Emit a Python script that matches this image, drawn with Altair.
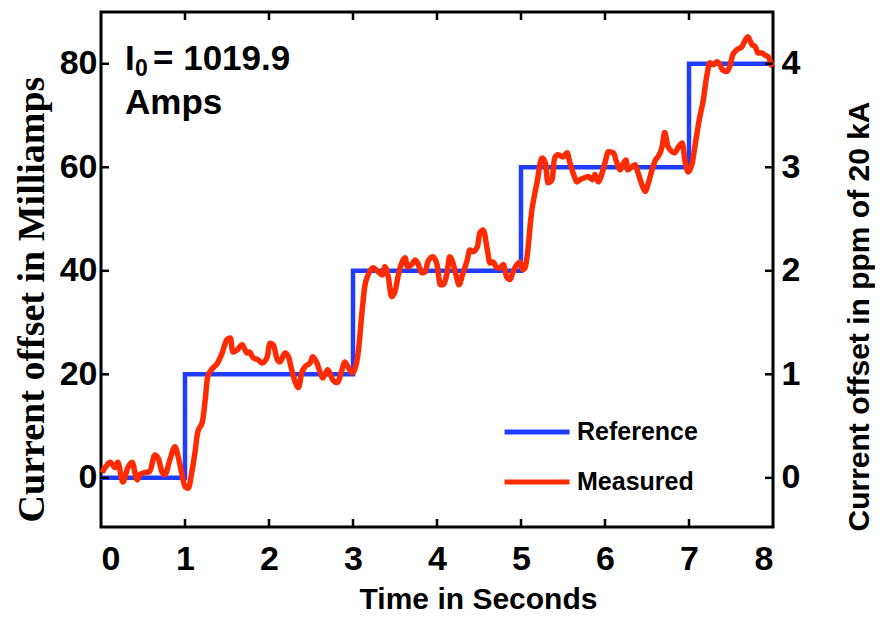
import altair as alt
import pandas as pd

# ---- data ----
ref_t = [0, 1, 3, 5, 7, 8]
ref_ma = [0, 20, 40, 60, 80, 80]

meas_t = [0.01, 0.05, 0.11, 0.17, 0.20, 0.26, 0.32, 0.37, 0.43, 0.46, 0.52, 0.58, 0.64, 0.68,
          0.73, 0.76, 0.82, 0.88, 0.92, 0.96, 1.00, 1.04, 1.08, 1.12, 1.15, 1.21, 1.24, 1.27,
          1.32, 1.38, 1.44, 1.50, 1.54, 1.57, 1.62, 1.68, 1.74, 1.77, 1.81, 1.87, 1.92, 1.98,
          2.01, 2.05, 2.10, 2.13, 2.19, 2.23, 2.27, 2.31, 2.35, 2.39, 2.43, 2.49, 2.52, 2.57,
          2.61, 2.64, 2.70, 2.76, 2.81, 2.87, 2.90, 2.94, 2.99, 3.02, 3.06, 3.11, 3.14, 3.18,
          3.24, 3.30, 3.35, 3.38, 3.42, 3.46, 3.50, 3.54, 3.58, 3.62, 3.65, 3.70, 3.74, 3.77,
          3.82, 3.86, 3.89, 3.95, 4.00, 4.04, 4.07, 4.12, 4.15, 4.19, 4.24, 4.26, 4.31, 4.36,
          4.39, 4.43, 4.48, 4.51, 4.55, 4.60, 4.63, 4.67, 4.71, 4.75, 4.79, 4.83, 4.87, 4.90,
          4.95, 4.99, 5.02, 5.05, 5.13, 5.19, 5.25, 5.29, 5.32, 5.37, 5.40, 5.44, 5.50, 5.55,
          5.58, 5.62, 5.67, 5.70, 5.76, 5.80, 5.85, 5.88, 5.92, 5.96, 6.00, 6.04, 6.10, 6.14,
          6.18, 6.21, 6.25, 6.27, 6.32, 6.36, 6.39, 6.44, 6.48, 6.51, 6.56, 6.60, 6.63, 6.68,
          6.71, 6.75, 6.80, 6.83, 6.87, 6.92, 6.95, 6.99, 7.04, 7.07, 7.12, 7.17, 7.21, 7.25,
          7.29, 7.33, 7.37, 7.40, 7.45, 7.49, 7.52, 7.57, 7.63, 7.67, 7.70, 7.75, 7.79, 7.82,
          7.87, 7.90, 7.94, 7.99]
meas_ma = [1, 2, 3, 2, 3, -0.8, 2, 3, -0.4, 0.6, 1, 1.2, 4.4, 3.8,
           1, 0.6, 3.5, 6, 4, 1, -1.7, -2, 1, 5, 8.7, 11, 15, 19.5,
           21, 22, 24, 26.7, 27, 24.3, 24.7, 25.7, 24.1, 24.3, 23.2, 22.8, 22.2, 23.4,
           26, 25.7, 22.8, 22.4, 24.1, 23.4, 20.9, 18.6, 17.4, 20.3, 21.5, 22.2, 23.4, 22.2,
           20.3, 19.3, 20.9, 18.9, 18.4, 20.9, 22.4, 21.5, 20.3, 20.9, 24, 32.5, 37, 39.2,
           40.6, 39.8, 39.2, 40.8, 38.8, 35, 36, 39.2, 41.5, 42.5, 40.8, 41.2, 42.1, 41.5,
           39.6, 39.8, 41.7, 42.7, 41.2, 37.3, 37.3, 39.6, 42.7, 41.5, 38.3, 37.3, 39.6, 42.1,
           44, 43.7, 44.6, 47.3, 47.9, 44, 41.5, 41.7, 40.6, 40.6, 41.2, 38.8, 38.3, 39.6,
           41.2, 41.7, 40.2, 40.6, 51.8, 57, 61.8, 60.9, 57, 57.6, 61.8, 62.4, 62, 62.8,
           61, 58.9, 57.2, 57.6, 58, 58.2, 57.6, 58.6, 57.2, 58.6, 60.9, 63, 62.8, 60.9,
           59.5, 60.5, 61.4, 59.5, 60.1, 60.5, 59.1, 56.6, 55.3, 56.6, 59.5, 61.4, 62, 64,
           66.7, 64, 63, 62.8, 63.8, 64.7, 61.4, 59.1, 60.9, 64, 69, 73, 77.5, 80.2,
           79.8, 80.4, 79.8, 78.8, 78.5, 79.8, 81.7, 82.7, 83.3, 84.6, 85.2, 83.7, 83.3, 82.1,
           82.1, 81.7, 81.4, 79.4]

series_names = ["Reference", "Measured"]
series_colors = ["#1f3cff", "#ff2b00"]

x_ticks = [0, 1, 2, 3, 4, 5, 6, 7, 8]
y_ticks_ma = [0, 20, 40, 60, 80]
y_ticks_ppm = [0, 1, 2, 3, 4]

# ---- layout constants ----
W, H = 672, 515
X_DOM = [0, 8]
Y_DOM = [-9.5, 90]
PPM_DOM = [Y_DOM[0] / 20, Y_DOM[1] / 20]
TICK_FONT = "Liberation Sans, Arial, sans-serif"
SANS = "Liberation Sans, Arial, sans-serif"
SERIF = "Liberation Serif, Times New Roman, serif"
TL = 8  # inward tick length

ref_df = pd.DataFrame({"t": ref_t, "ma": ref_ma, "series": "Reference"})
meas_df = pd.DataFrame({"t": meas_t, "ma": meas_ma, "series": "Measured"})
xt_df = pd.DataFrame({"t": x_ticks[1:-1]})
yt_df = pd.DataFrame({"ma": y_ticks_ma})
ppm_df = pd.DataFrame({"ppm": y_ticks_ppm})

xs = alt.Scale(domain=X_DOM, nice=False, zero=False)
ys = alt.Scale(domain=Y_DOM, nice=False, zero=False)
color = alt.Color(
    "series:N",
    scale=alt.Scale(domain=series_names, range=series_colors),
    sort=series_names,
    legend=alt.Legend(
        title=None, orient="none", legendX=401, legendY=408,
        symbolType="stroke", symbolSize=4225, symbolStrokeWidth=5,
        clipHeight=24, rowPadding=25, padding=0, labelOffset=5,
        labelFont=SANS, labelFontSize=25, labelFontWeight="bold", labelColor="black",
    ),
)

x_axis = alt.Axis(
    values=x_ticks, format="d", ticks=False, domain=False, grid=False,
    labelFont=TICK_FONT, labelFontSize=34, labelFontWeight="bold", labelColor="black",
    labelPadding=15,
    title="Time in Seconds", titleFont=SANS, titleFontSize=30, titleFontWeight="bold",
    titleColor="black", titleX=377, titleY=81, titleBaseline="alphabetic",
)
y_axis = alt.Axis(
    values=y_ticks_ma, format="d", ticks=False, domain=False, grid=False,
    labelFont=TICK_FONT, labelFontSize=34, labelFontWeight="bold", labelColor="black",
    labelPadding=4, labelBaseline="middle",
    title="Current offset in Milliamps", titleFont=SERIF, titleFontSize=38,
    titleFontWeight="bold", titleColor="black", titleAngle=-90, titleX=-69, titleY=287,
    titleBaseline="middle", titleAlign="center",
)

ref = alt.Chart(ref_df).mark_line(interpolate="step-after", strokeWidth=4.5).encode(
    x=alt.X("t:Q", scale=xs, axis=x_axis),
    y=alt.Y("ma:Q", scale=ys, axis=y_axis),
    color=color,
)
meas = alt.Chart(meas_df).mark_line(strokeWidth=5.5, interpolate="monotone").encode(
    x=alt.X("t:Q", scale=xs),
    y=alt.Y("ma:Q", scale=ys),
    color=color,
)

tick_style = dict(color="black", strokeWidth=2.5)
bottom_ticks = alt.Chart(xt_df).mark_rule(**tick_style).encode(
    x=alt.X("t:Q", scale=xs), y=alt.value(H), y2=alt.value(H - TL))
top_ticks = alt.Chart(xt_df).mark_rule(**tick_style).encode(
    x=alt.X("t:Q", scale=xs), y=alt.value(0), y2=alt.value(TL))
left_ticks = alt.Chart(yt_df).mark_rule(**tick_style).encode(
    y=alt.Y("ma:Q", scale=ys), x=alt.value(0), x2=alt.value(TL))
right_ticks = alt.Chart(yt_df).mark_rule(**tick_style).encode(
    y=alt.Y("ma:Q", scale=ys), x=alt.value(W - TL), x2=alt.value(W))

ann_style = dict(font=SANS, fontWeight="bold", color="black", align="left",
                 baseline="alphabetic")
ann_i = alt.Chart(pd.DataFrame({"s": ["I"]})).mark_text(fontSize=35, **ann_style).encode(
    text="s:N", x=alt.value(24), y=alt.value(58))
ann_sub = alt.Chart(pd.DataFrame({"s": ["0"]})).mark_text(fontSize=23, **ann_style).encode(
    text="s:N", x=alt.value(34), y=alt.value(64))
ann_val = alt.Chart(pd.DataFrame({"s": ["= 1019.9"]})).mark_text(fontSize=35, **ann_style).encode(
    text="s:N", x=alt.value(52), y=alt.value(58))
ann_amps = alt.Chart(pd.DataFrame({"s": ["Amps"]})).mark_text(fontSize=35, **ann_style).encode(
    text="s:N", x=alt.value(24), y=alt.value(102))

main = alt.layer(ref, meas, bottom_ticks, top_ticks, left_ticks, right_ticks,
                 ann_i, ann_sub, ann_val, ann_amps)

ppm_layer = alt.Chart(ppm_df).mark_point(opacity=0).encode(
    y=alt.Y("ppm:Q", scale=alt.Scale(domain=PPM_DOM, nice=False, zero=False),
            axis=alt.Axis(
                orient="right", values=y_ticks_ppm, format="d", ticks=False, domain=False,
                grid=False, labelFont=TICK_FONT, labelFontSize=34, labelFontWeight="bold",
                labelColor="black", labelPadding=8, labelBaseline="middle",
                title="Current offset in ppm of 20 kA", titleFont=SANS, titleFontSize=30,
                titleFontWeight="bold", titleColor="black", titleAngle=-90, titleX=86,
                titleY=304, titleBaseline="middle", titleAlign="center")),
)

chart = (
    alt.layer(main, ppm_layer)
    .resolve_scale(y="independent")
    .properties(width=W, height=H, autosize=alt.AutoSizeParams(type="none"),
                background="white",
                padding={"left": 93, "top": 4, "right": 102, "bottom": 87})
    .configure_view(stroke="black", strokeWidth=3)
)

chart.save("out.html", embed_options={"renderer": "svg", "actions": False})
